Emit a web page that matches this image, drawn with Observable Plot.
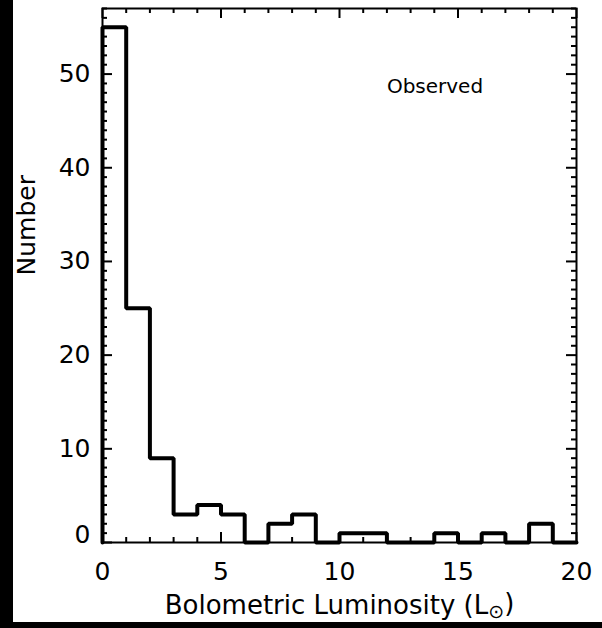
<!DOCTYPE html>
<html>
<head>
<meta charset="utf-8">
<script src="https://cdn.jsdelivr.net/npm/d3@7"></script>
<script src="https://cdn.jsdelivr.net/npm/@observablehq/plot@0.6"></script>
<style>
  html, body { margin: 0; padding: 0; background: #000; }
  #chart { position: absolute; left: 13px; top: 0; width: 589px; height: 622px; background: #fff; }
</style>
</head>
<body>
<div id="chart"></div>
<script>
// ---- data ----
const binStarts = [0,1,2,3,4,5,6,7,8,9,10,11,12,13,14,15,16,17,18,19];
const counts    = [55,25,9,3,4,3,0,2,3,0,1,1,0,0,1,0,1,0,2,0];
const binWidth = 1;
const xMajorTicks = [0, 5, 10, 15, 20];
const yMajorTicks = [0, 10, 20, 30, 40, 50];
const xLabel = "Bolometric Luminosity (L⊙)";
const yLabel = "Number";
const annotation = "Observed";

// ---- build step outline ----
const points = [{x: binStarts[0], y: 0}];
binStarts.forEach((b, i) => points.push({x: b, y: counts[i]}));
points.push({x: binStarts[binStarts.length - 1] + binWidth, y: counts[counts.length - 1]});

const xMinorTicks = d3.range(0, 21, 1).filter(v => !xMajorTicks.includes(v));
const yMinorTicks = d3.range(0, 58, 1).filter(v => !yMajorTicks.includes(v));

const W = 589, H = 622;
const mL = 89, mR = 26, mT = 8, mB = 80;
const plotW = W - mL - mR, plotH = H - mT - mB;
const majLen = 10, minLen = 5;

const chart = Plot.plot({
  width: W,
  height: H,
  marginLeft: mL,
  marginRight: mR,
  marginTop: mT,
  marginBottom: mB,
  style: {fontFamily: "DejaVu Sans", fontSize: "25px", color: "black", background: "white"},
  x: {domain: [0, 20], label: null},
  y: {domain: [0, 57], label: null},
  marks: [
    // inward ticks: bottom/top
    Plot.tickX(xMajorTicks, {x: d => d, insetTop: plotH - majLen, strokeWidth: 2}),
    Plot.tickX(xMajorTicks, {x: d => d, insetBottom: plotH - majLen, strokeWidth: 2}),
    Plot.tickX(xMinorTicks, {x: d => d, insetTop: plotH - minLen, strokeWidth: 2}),
    Plot.tickX(xMinorTicks, {x: d => d, insetBottom: plotH - minLen, strokeWidth: 2}),
    // inward ticks: left/right
    Plot.tickY(yMajorTicks, {y: d => d, insetRight: plotW - majLen, strokeWidth: 2}),
    Plot.tickY(yMajorTicks, {y: d => d, insetLeft: plotW - majLen, strokeWidth: 2}),
    Plot.tickY(yMinorTicks, {y: d => d, insetRight: plotW - minLen, strokeWidth: 2}),
    Plot.tickY(yMinorTicks, {y: d => d, insetLeft: plotW - minLen, strokeWidth: 2}),
    Plot.frame({stroke: "black", strokeWidth: 2}),
    // tick labels
    Plot.axisX({ticks: xMajorTicks, tickSize: 0, tickPadding: 20, label: null, tickFormat: d => String(d)}),
    Plot.axisY({ticks: yMajorTicks.filter(v => v !== 0), tickSize: 0, tickPadding: 12, label: null, tickFormat: d => String(d)}),
    Plot.axisY({ticks: [0], tickSize: 0, tickPadding: 12, dy: -8, label: null, tickFormat: d => String(d)}),
    // histogram outline
    Plot.line(points, {x: "x", y: "y", curve: "step-after", stroke: "black", strokeWidth: 4, strokeLinejoin: "miter"}),
    // annotation
    Plot.text([annotation], {x: 12, y: 48.7, text: d => d, textAnchor: "start", fontSize: 20, fill: "black"}),
    // axis titles
    Plot.text([xLabel], {frameAnchor: "bottom", text: d => d, lineAnchor: "bottom", dy: 71, fontSize: 26, fill: "black"}),
    Plot.text([yLabel], {frameAnchor: "left", text: d => d, rotate: -90, lineAnchor: "bottom", dx: 21 - mL, fill: "black"})
  ]
});

document.getElementById("chart").appendChild(chart);

// subscript sun symbol in the x title
d3.select(chart).selectAll("text").each(function() {
  const t = d3.select(this);
  if (t.text() === xLabel) {
    t.text(null);
    t.append("tspan").text("Bolometric Luminosity (L");
    t.append("tspan").attr("font-size", "19px").attr("dy", "0.25em").text("⊙");
    t.append("tspan").attr("dy", "-0.25em").attr("font-size", "26px").text(")");
  }
});
</script>
</body>
</html>
